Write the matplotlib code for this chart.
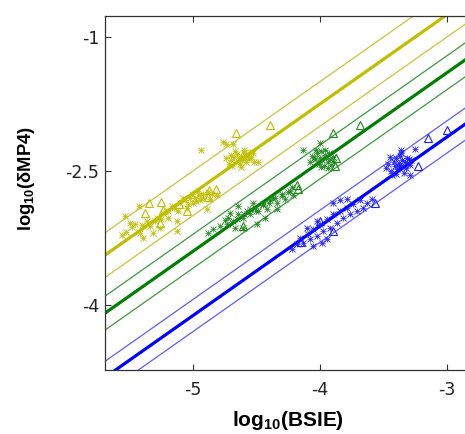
import matplotlib
matplotlib.use("Agg")
import matplotlib.pyplot as plt
import numpy as np

plt.rcParams["font.family"] = ["DejaVu Sans"]
plt.rcParams["mathtext.fontset"] = "custom"
plt.rcParams["mathtext.rm"] = "Liberation Sans"
plt.rcParams["mathtext.bf"] = "Liberation Sans:bold"

# fitted lines: y = x + intercept, with a band of +/- half_width
line_intercepts = [2.25, 1.60, 0.88]
band_half_widths = [0.25, 0.19, 0.18]

# yellow group
yel_cross_x = [-5.535, -5.496, -5.457, -5.528, -5.417, -5.425, -5.339, -5.260, -5.197, -5.126,
               -5.118, -5.039, -4.984, -4.921, -4.890, -4.866, -4.811, -5.079, -5.008, -4.961,
               -5.047, -5.283, -5.236, -5.362, -5.165, -5.000, -4.945, -5.126, -5.315, -5.394,
               -5.20, -5.15, -5.10, -5.06, -5.02, -4.98, -4.95, -4.92, -4.88, -4.85,
               -5.30, -5.25, -5.40, -5.48, -5.56,
               -4.72, -4.70, -4.68, -4.66, -4.65, -4.64, -4.63, -4.62, -4.61, -4.60,
               -4.59, -4.58, -4.57, -4.56, -4.55, -4.67, -4.69, -4.62, -4.54, -4.74,
               -4.60, -4.53, -4.685, -4.52, -4.70, -4.94, -4.49, -4.76, -4.74]
yel_cross_y = [-3.000, -3.079, -3.090, -3.180, -3.191, -2.888, -3.112, -3.135, -3.022, -3.056,
               -2.944, -2.865, -2.798, -2.753, -2.921, -2.809, -2.775, -2.798, -2.753, -2.719,
               -2.910, -3.022, -2.966, -3.056, -2.888, -2.854, -2.831, -3.169, -3.191, -3.247,
               -2.95, -2.92, -2.86, -2.83, -2.80, -2.84, -2.77, -2.80, -2.74, -2.76,
               -3.06, -3.04, -3.10, -3.13, -3.22,
               -2.42, -2.38, -2.34, -2.40, -2.31, -2.36, -2.42, -2.33, -2.38, -2.30,
               -2.35, -2.40, -2.33, -2.37, -2.29, -2.28, -2.45, -2.46, -2.34, -2.36,
               -2.26, -2.30, -2.20, -2.40, -2.32, -2.26, -2.40, -2.18, -2.20]
yel_tri_x = [-5.346, -5.252, -5.047, -4.882, -4.819, -4.874, -5.260, -5.236, -5.11, -5.38, -4.66, -4.39]
yel_tri_y = [-2.854, -2.843, -2.944, -2.787, -2.697, -2.708, -3.079, -2.933, -2.87, -2.97, -2.07, -1.98]

# green group
grn_cross_x = [-4.882, -4.843, -4.787, -4.732, -4.724, -4.685, -4.646, -4.606, -4.575, -4.551,
               -4.512, -4.488, -4.449, -4.417, -4.394, -4.370, -4.339, -4.299, -4.276, -4.236,
               -4.213, -4.220, -4.339, -4.433, -4.496, -4.606, -4.669, -4.528, -4.646, -4.709,
               -4.60, -4.55, -4.50, -4.45, -4.40, -4.35, -4.30, -4.25, -4.65, -4.75,
               -4.08, -4.06, -4.04, -4.02, -4.01, -4.00, -3.99, -3.98, -3.97, -3.96,
               -3.95, -3.94, -3.93, -3.92, -3.91, -3.90, -4.03, -3.99, -3.96, -4.05,
               -3.94, -3.89, -4.13, -4.00]
grn_cross_y = [-3.191, -3.146, -3.112, -3.090, -3.022, -3.056, -2.978, -3.022, -2.944, -2.978,
               -2.910, -2.944, -2.865, -2.921, -2.831, -2.798, -2.854, -2.753, -2.809, -2.719,
               -2.775, -2.685, -2.921, -3.022, -3.090, -3.135, -3.135, -2.854, -2.888, -2.966,
               -2.98, -2.93, -2.95, -2.88, -2.86, -2.80, -2.78, -2.74, -3.04, -3.05,
               -2.40, -2.33, -2.37, -2.30, -2.42, -2.35, -2.28, -2.38, -2.44, -2.32,
               -2.36, -2.40, -2.30, -2.37, -2.43, -2.34, -2.26, -2.46, -2.27, -2.36,
               -2.47, -2.40, -2.27, -2.19]
grn_tri_x = [-3.90, -3.685, -3.87, -3.88, -4.606, -4.17, -4.18]
grn_tri_y = [-2.07, -1.99, -2.35, -2.44, -3.112, -2.70, -2.66]

# blue group
blu_cross_x = [-4.220, -4.181, -4.157, -4.134, -4.094, -4.079, -4.055, -4.024, -4.000, -3.976,
               -3.945, -3.921, -3.898, -3.866, -3.843, -3.819, -3.787, -3.764, -3.740, -3.709,
               -3.685, -3.661, -3.630, -3.591, -3.898, -3.843, -3.787, -4.024, -4.102, -4.055,
               -3.945, -3.984,
               -3.48, -3.46, -3.44, -3.42, -3.41, -3.40, -3.39, -3.38, -3.37, -3.36,
               -3.35, -3.34, -3.33, -3.31, -3.29, -3.45, -3.40, -3.36, -3.43, -3.32,
               -3.38, -3.28, -3.25, -3.36, -3.29, -3.30]
blu_cross_y = [-3.371, -3.315, -3.247, -3.303, -3.202, -3.258, -3.146, -3.225, -3.090, -3.169,
               -3.034, -3.135, -2.978, -3.079, -2.944, -3.022, -2.910, -2.978, -2.865, -2.944,
               -2.831, -2.910, -2.854, -2.809, -2.854, -2.831, -2.809, -3.056, -3.135, -3.337,
               -3.258, -3.303,
               -2.47, -2.42, -2.50, -2.40, -2.45, -2.36, -2.48, -2.41, -2.33, -2.44,
               -2.38, -2.52, -2.40, -2.35, -2.43, -2.34, -2.53, -2.30, -2.55, -2.47,
               -2.44, -2.38, -2.25, -2.27, -2.55, -2.37]
blu_tri_x = [-3.00, -3.15, -3.23, -4.00, -3.90, -3.567, -4.15]
blu_tri_y = [-2.045, -2.13, -2.44, -3.056, -3.17, -2.854, -3.30]

x_ticks = [-5, -4, -3]
y_ticks = [-1, -2.5, -4]
y_tick_labels = ["-1", "-2.5", "-4"]

thick_colors = ["#bfbf00", "#008000", "#0000ff"]
thin_colors = ["#c6c63c", "#3f983f", "#5c5cff"]
marker_colors = ["#bfbf00", "#1f861f", "#1a1aff"]

fig = plt.figure(figsize=(4.65, 4.34), dpi=100)
ax = fig.add_axes([105 / 465, 64 / 434, 385 / 465, 354 / 434])

xlim = (-5.693, -2.66)
ylim = (-4.730, -0.764)
xs = np.array(xlim)
for b, hw, ck, ct in zip(line_intercepts, band_half_widths, thick_colors, thin_colors):
    ax.plot(xs, xs + b, color=ck, lw=2.3, zorder=2)
    ax.plot(xs, xs + b + hw, color=ct, lw=0.9, zorder=2)
    ax.plot(xs, xs + b - hw, color=ct, lw=0.9, zorder=2)

groups = [
    (yel_cross_x, yel_cross_y, yel_tri_x, yel_tri_y),
    (grn_cross_x, grn_cross_y, grn_tri_x, grn_tri_y),
    (blu_cross_x, blu_cross_y, blu_tri_x, blu_tri_y),
]
for (cx, cy, tx, ty), mc in zip(groups, marker_colors):
    ax.plot(cx, cy, "x", color=mc, ms=4.5, mew=0.6, zorder=3)
    ax.plot(cx, cy, "+", color=mc, ms=4.5, mew=0.5, zorder=3)
    ax.plot(tx, ty, "^", color=mc, mfc="none", ms=5.5, mew=0.8, zorder=3)

ax.set_xlim(xlim)
ax.set_ylim(ylim)
ax.set_xticks(x_ticks)
ax.set_xticklabels([str(t) for t in x_ticks])
ax.set_yticks(y_ticks)
ax.set_yticklabels(y_tick_labels)
ax.tick_params(direction="in", length=4, width=0.8, top=True, right=True,
               labelsize=12.5, colors="#333333", labelcolor="#222222")
ax.tick_params(axis="x", pad=8)
ax.tick_params(axis="y", pad=4)
for s in ax.spines.values():
    s.set_color("#333333")
    s.set_linewidth(0.9)

ax.set_xlabel(r"$\mathbf{log_{10}}$(BSIE)", fontsize=15, fontweight="bold",
              family="Liberation Sans", va="top")
ax.xaxis.set_label_coords(0.475, -0.110)
ax.set_ylabel(r"$\mathbf{log_{10}}$($\mathbf{\delta}$MP4)", fontsize=13.2, fontweight="bold",
              family="Liberation Sans")
ax.yaxis.set_label_coords(-0.177, 0.542)

fig.savefig("out.png", dpi=100)
